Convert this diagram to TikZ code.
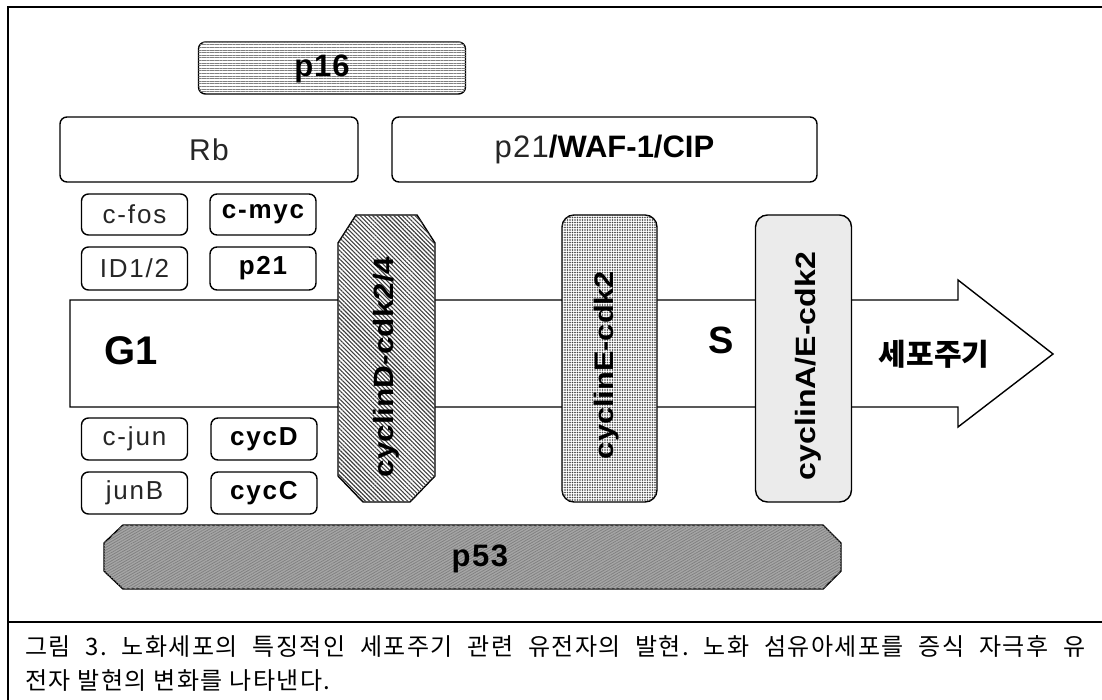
\documentclass[tikz,border=0pt]{standalone}
\usepackage{fontspec}
\usepackage{graphicx}
\setmainfont{Liberation Sans}
\newfontfamily\krfont{Noto Sans CJK KR}
\usetikzlibrary{patterns.meta}
\tikzset{
  box/.style={draw, line width=1.4pt, rounded corners=7pt, inner sep=0pt, fill=white},
  genebox/.style={box, minimum width=106pt, minimum height=42pt},
  boldlbl/.style={font=\fontsize{26}{30}\selectfont\bfseries\addfontfeature{LetterSpace=7}},
  thinlbl/.style={font=\fontsize{26}{30}\selectfont\addfontfeature{LetterSpace=7}, text=black!85},
  cycbox/.style={draw, line width=1.4pt, rounded corners=12pt, inner sep=0pt, minimum width=95pt, minimum height=287pt},
  frame/.style={line width=1.1pt},
  captxt/.style={anchor=west, inner sep=0pt, font=\krfont\fontsize{24}{28}\selectfont\addfontfeature{LetterSpace=6}},
}
\begin{document}
\frenchspacing
\begin{tikzpicture}[x=1pt,y=-1pt]
\useasboundingbox (0,0) rectangle (1102,700);
\fill[white] (0,0) rectangle (1102,700);
% frame
\draw[frame] (8,700) -- (8,7) -- (1102,7);
\draw[frame] (8,622) -- (1102,622);

% main arrow
\draw[line width=1.4pt, fill=white] (70,300) -- (958,300) -- (958,280) -- (1053,354) -- (958,427) -- (958,407) -- (70,407) -- cycle;
\node[font=\fontsize{40}{44}\selectfont\bfseries] (g1) at (131,351) {G1};
\node[font=\fontsize{38}{42}\selectfont\bfseries] (s) at (721,340) {S};
\node[font=\krfont\fontsize{30}{34}\selectfont\bfseries] (cycle) at (934,354) {세포주기};

% top boxes
\node[box, minimum width=267pt, minimum height=52pt, fill=white,
      postaction={pattern={Lines[angle=0,distance=2.6pt,line width=0.8pt]}, pattern color=black!50}] (p16) at (332,68) {};
\node[font=\fontsize{31}{34}\selectfont\bfseries\addfontfeature{LetterSpace=3}] (p16t) at (322,69) {p16};
\node[box, minimum width=298pt, minimum height=65pt, font=\fontsize{30}{34}\selectfont\addfontfeature{LetterSpace=5}, text=black!85] (rb) at (209,149.5) {Rb};
\node[box, minimum width=425pt, minimum height=65pt, font=\fontsize{31}{34}\selectfont] (p21waf) at (604.5,149.5) {{\color{black!85}\addfontfeature{LetterSpace=4}p21}\textbf{/WAF-1/CIP}};

% gene boxes above
\node[genebox, minimum height=41pt, thinlbl] (cfos) at (134.5,214.5) {c-fos};
\node[genebox, minimum height=41pt, boldlbl] (cmyc) at (263,214.5) {c-myc};
\node[genebox, minimum height=43pt, thinlbl] (id12) at (134.5,268.5) {ID1/2};
\node[genebox, minimum height=43pt, boldlbl] (p21) at (263,268.5) {p21};
% gene boxes below
\node[genebox, thinlbl] (cjun) at (134.5,439) {c-jun};
\node[genebox, boldlbl] (cycd) at (264,439) {cycD};
\node[genebox, thinlbl] (junb) at (134.5,493) {junB};
\node[genebox, boldlbl] (cycc) at (264,493) {cycC};

% cyclin complexes
\draw[line width=1.4pt, fill=white, postaction={pattern={Lines[angle=-45,distance=3pt,line width=1.1pt]}, pattern color=black!75}]
  (356,215) -- (417,215) -- (435,243) -- (435,476) -- (410,502) -- (363,502) -- (338,476) -- (338,243) -- cycle;
\node[rotate=90] (cycdcdk) at (386,367) {\resizebox*{221pt}{26pt}{\bfseries cyclinD-cdk2/4}};

\node[cycbox, fill=white, postaction={pattern={Dots[distance=2.5pt,radius=0.9pt]}, pattern color=black!75}] (cycecdk) at (609.5,358.5) {};
\node[rotate=90] (cycet) at (607,365) {\resizebox*{188pt}{25pt}{\bfseries cyclinE-cdk2}};

\node[cycbox, fill=black!8, minimum width=96pt] (cycaecdk) at (803.5,358.5) {};
\node[rotate=90] (cycaet) at (808,366) {\resizebox*{228pt}{26pt}{\bfseries cyclinA/E-cdk2}};

% p53
\draw[line width=1.4pt, fill=black!35, postaction={pattern={Lines[angle=30,distance=2.4pt,line width=0.8pt]}, pattern color=black!50}]
  (123,525) -- (823,525) -- (841,543) -- (841,571) -- (823,589) -- (123,589) -- (104,571) -- (104,543) -- cycle;
\node[font=\fontsize{31}{34}\selectfont\bfseries\addfontfeature{LetterSpace=5}] (p53) at (480,559) {p53};

% caption
\node[captxt] (cap1) at (25,646)
  {\makebox[1060pt][s]{그림 3. 노화세포의 특징적인 세포주기 관련 유전자의 발현. 노화 섬유아세포를 증식 자극후 유}};
\node[captxt] (cap2) at (25,681)
  {전자 발현의 변화를 나타낸다.};
\end{tikzpicture}
\end{document}
